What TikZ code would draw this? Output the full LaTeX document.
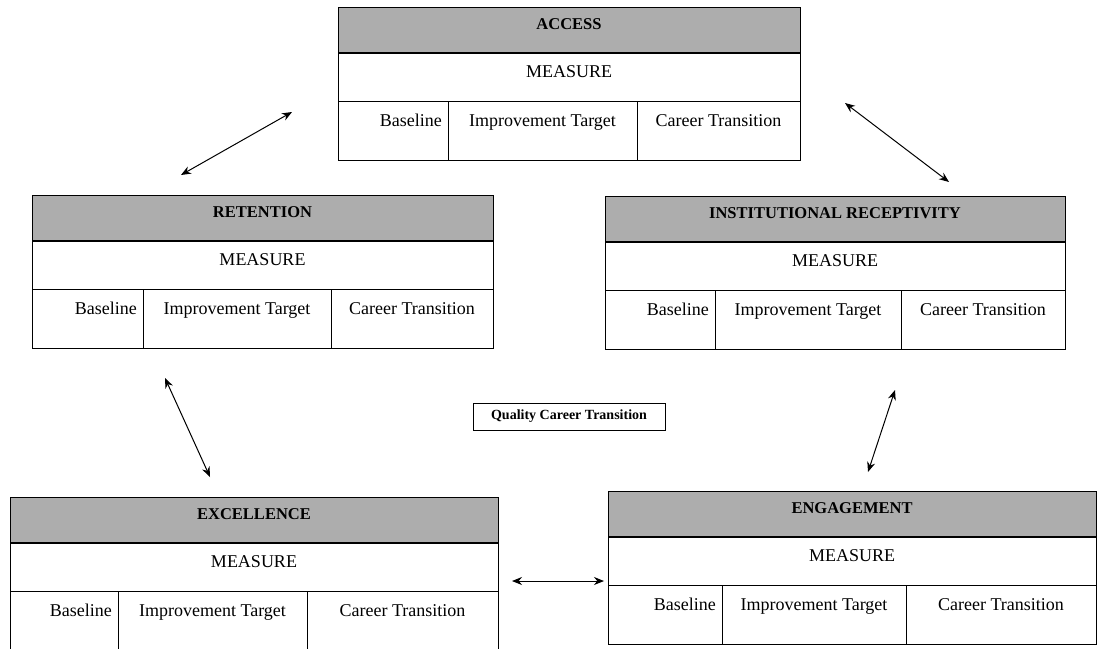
\documentclass[tikz,border=0pt]{standalone}
\usepackage{fontspec}
\setmainfont{Liberation Serif}
\usetikzlibrary{arrows.meta}
\tikzset{
  tabline/.style={line width=1pt},
  headfill/.style={fill=black!32},
  headtext/.style={inner sep=0pt,anchor=base,font=\fontsize{16.5}{18}\selectfont\bfseries},
  celltext/.style={inner sep=0pt,anchor=base,font=\fontsize{18}{20}\selectfont},
  link/.style={line width=1pt,{Stealth[length=10pt,width=8pt]}-{Stealth[length=10pt,width=8pt]}}
}
% one measure table: name, left, top, right, first divider, second divider, title
\newcommand{\mtable}[7]{%
  \fill[headfill] (#2,#3) rectangle (#4,{#3+46});
  \draw[tabline] (#2,#3) rectangle (#4,{#3+153});
  \draw[line width=1.6pt] (#2,{#3+46}) -- (#4,{#3+46});
  \draw[tabline] (#2,{#3+94}) -- (#4,{#3+94});
  \draw[tabline] (#5,{#3+94}) -- (#5,{#3+153});
  \draw[tabline] (#6,{#3+94}) -- (#6,{#3+153});
  \node[headtext] (#1-title) at ({(#2+#4)/2},{#3+22}) {#7};
  \node[celltext] (#1-measure) at ({(#2+#4)/2},{#3+70}) {MEASURE};
  \node[celltext,anchor=base east] (#1-base) at ({#5-6},{#3+119}) {Baseline};
  \node[celltext] (#1-target) at ({(#5+#6)/2},{#3+119}) {Improvement Target};
  \node[celltext] (#1-career) at ({(#6+#4)/2},{#3+119}) {Career Transition};
}
\begin{document}
\begin{tikzpicture}[x=1pt,y=-1pt]
  \fill[white] (0,0) rectangle (1099,648);
  \useasboundingbox (0,0) rectangle (1099,648);
  \mtable{acc}{338}{7}{800}{448}{637}{ACCESS}
  \mtable{ret}{32}{195}{493}{143}{331}{RETENTION}
  \mtable{inst}{605}{196}{1065}{715}{901}{INSTITUTIONAL RECEPTIVITY}
  \mtable{exc}{10}{497}{498}{118}{307}{EXCELLENCE}
  \mtable{eng}{608}{491}{1096}{722}{906}{ENGAGEMENT}
  \node (qct) at (569,416.5) [draw,line width=0.8pt,minimum width=192pt,minimum height=27pt,inner sep=2pt,font=\fontsize{14}{16}\selectfont\bfseries] {Quality Career Transition};
  % arrow ends
  \coordinate (ar1) at (292,112);
  \coordinate (ar2) at (181,175);
  \coordinate (ai1) at (845,103);
  \coordinate (ai2) at (949,182);
  \coordinate (re1) at (165,378);
  \coordinate (re2) at (210,477);
  \coordinate (ie1) at (895,390);
  \coordinate (ie2) at (868,472);
  \coordinate (ee1) at (512,581);
  \coordinate (ee2) at (604,581);
  \draw[link] (ar1) to (ar2);
  \draw[link] (ai1) to (ai2);
  \draw[link] (re1) to (re2);
  \draw[link] (ie1) to (ie2);
  \draw[link] (ee1) to (ee2);
\end{tikzpicture}
\end{document}
